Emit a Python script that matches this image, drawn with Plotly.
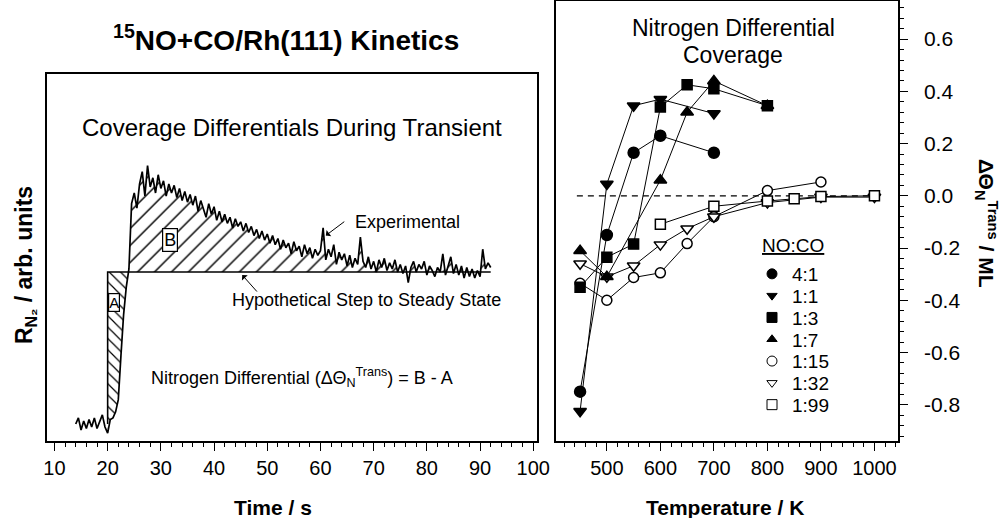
import plotly.graph_objects as go

FONT = "Liberation Sans, Arial, Helvetica, sans-serif"
W, H = 1003, 518

# ---------------- Left panel data: N2 rate transient (arb. units; baseline=0, steady=1)
time_s = [14.0, 14.5, 15.0, 15.5, 16.0, 16.5, 17.0, 17.5, 18.0, 18.5, 19.0, 19.5,
          20.0, 20.5, 21.0, 21.5, 22.0, 22.5, 23.0, 23.5, 24.0, 24.5, 25.0, 25.5,
          26.0, 26.5, 27.0, 27.5, 28.0, 28.5, 29.0, 29.5, 30.0, 30.5, 31.0, 31.5,
          32.0, 32.5, 33.0, 33.5, 34.0, 34.5, 35.0, 35.5, 36.0, 36.5, 37.0, 37.5,
          38.0, 38.5, 39.0, 39.5, 40.0, 40.5, 41.0, 41.5, 42.0, 42.5, 43.0, 43.5,
          44.0, 44.5, 45.0, 45.5, 46.0, 46.5, 47.0, 47.5, 48.0, 48.5, 49.0, 49.5,
          50.0, 50.5, 51.0, 51.5, 52.0, 52.5, 53.0, 53.5, 54.0, 54.5, 55.0, 55.5,
          56.0, 56.5, 57.0, 57.5, 58.0, 58.5, 59.0, 59.5, 60.0, 60.5, 61.0, 61.5,
          62.0, 62.5, 63.0, 63.5, 64.0, 64.5, 65.0, 65.5, 66.0, 66.5, 67.0, 67.5,
          68.0, 68.5, 69.0, 69.5, 70.0, 70.5, 71.0, 71.5, 72.0, 72.5, 73.0, 73.5,
          74.0, 74.5, 75.0, 75.5, 76.0, 76.5, 77.0, 77.5, 78.0, 78.5, 79.0, 79.5,
          80.0, 80.5, 81.0, 81.5, 82.0, 82.5, 83.0, 83.5, 84.0, 84.5, 85.0, 85.5,
          86.0, 86.5, 87.0, 87.5, 88.0, 88.5, 89.0, 89.5, 90.0, 90.5, 91.0, 91.5,
          92.0]
rate_n2 = [0.00, 0.04, -0.04, 0.02, -0.03, 0.03, -0.02, 0.04, -0.03, 0.02, 0.06, -0.02,
           -0.06, 0.03, 0.04, 0.08, 0.16, 0.45, 0.72, 0.90, 1.02, 1.45, 1.52, 1.42,
           1.58, 1.66, 1.50, 1.70, 1.56, 1.62, 1.52, 1.64, 1.55, 1.60, 1.50, 1.58,
           1.52, 1.57, 1.49, 1.55, 1.47, 1.53, 1.46, 1.51, 1.44, 1.50, 1.40, 1.47,
           1.42, 1.36, 1.45, 1.38, 1.43, 1.34, 1.40, 1.33, 1.38, 1.32, 1.36, 1.29,
           1.35, 1.30, 1.33, 1.27, 1.32, 1.26, 1.30, 1.24, 1.28, 1.22, 1.27, 1.21,
           1.25, 1.19, 1.24, 1.18, 1.22, 1.15, 1.21, 1.16, 1.19, 1.12, 1.20, 1.14,
           1.17, 1.10, 1.18, 1.12, 1.16, 1.09, 1.15, 1.11, 1.14, 1.29, 1.08, 1.15,
           1.10, 1.18, 1.05, 1.13, 1.08, 1.12, 1.04, 1.11, 1.03, 1.09, 1.05, 1.23,
           1.07, 1.03, 1.10, 1.02, 1.07, 1.00, 1.08, 1.03, 1.09, 1.01, 1.06, 1.02,
           1.08, 1.00, 1.05, 0.99, 1.04, 0.93, 1.03, 1.07, 1.00, 1.05, 1.02, 1.07,
           0.98, 1.04, 1.01, 0.97, 1.03, 1.00, 1.12, 0.98, 1.04, 1.10, 0.99, 1.05,
           0.98, 1.04, 0.96, 1.03, 0.97, 1.02, 0.96, 1.01, 0.97, 1.15, 1.02, 1.06,
           1.03]
STEP_TIME = 20.0
END_TIME = 92.0
BASELINE = 0.0
STEADY = 1.0
CROSS_TIME = 24.0

# ---------------- Right panel data: nitrogen differential coverage (ML) vs T (K)
series_names = ["4:1", "1:1", "1:3", "1:7", "1:15", "1:32", "1:99"]
temp_41 = [450, 500, 550, 600, 700]
cov_41 = [-0.75, -0.15, 0.165, 0.23, 0.165]
temp_11 = [450, 500, 550, 600, 700]
cov_11 = [-0.825, 0.045, 0.345, 0.37, 0.315]
temp_13 = [450, 500, 550, 600, 650, 700, 800]
cov_13 = [-0.35, -0.235, -0.185, 0.34, 0.425, 0.41, 0.345]
temp_17 = [450, 500, 600, 650, 700, 800]
cov_17 = [-0.21, -0.31, 0.06, 0.32, 0.44, 0.345]
temp_115 = [450, 500, 550, 600, 650, 700, 800, 900]
cov_115 = [-0.335, -0.40, -0.313, -0.295, -0.183, -0.08, 0.02, 0.053]
temp_132 = [450, 500, 550, 600, 650, 700, 800, 900, 1000]
cov_132 = [-0.26, -0.31, -0.268, -0.187, -0.126, -0.08, -0.026, -0.005, -0.005]
temp_199 = [600, 700, 800, 850, 900, 1000]
cov_199 = [-0.109, -0.04, -0.02, -0.011, -0.003, 0.0]
zero_line_t = [444, 1000]

x_ticks_left = [10, 20, 30, 40, 50, 60, 70, 80, 90, 100]
x_ticks_right = [500, 600, 700, 800, 900, 1000]
y_ticks_right = [-0.8, -0.6, -0.4, -0.2, 0.0, 0.2, 0.4, 0.6]

fig = go.Figure()

# ---- hatched area A (between step and rising edge)
a_t = [t for t in time_s if STEP_TIME <= t <= CROSS_TIME]
a_v = [min(v, STEADY) for t, v in zip(time_s, rate_n2) if STEP_TIME <= t <= CROSS_TIME]
fig.add_trace(go.Scatter(
    x=a_t + [STEP_TIME], y=a_v + [STEADY], mode="lines", fill="toself",
    line=dict(width=0, color="rgba(0,0,0,0)"), fillcolor="rgba(0,0,0,0)",
    fillpattern=dict(shape="\\", size=8, solidity=0.15, fgcolor="black",
                     bgcolor="rgba(0,0,0,0)"),
    showlegend=False, hoverinfo="skip", xaxis="x", yaxis="y"))

# ---- hatched area B (between transient and steady state)
b_t = [t for t in time_s if t >= CROSS_TIME - 0.5]
b_v = [max(v, STEADY) for t, v in zip(time_s, rate_n2) if t >= CROSS_TIME - 0.5]
fig.add_trace(go.Scatter(
    x=b_t + [END_TIME, b_t[0]], y=b_v + [STEADY, STEADY], mode="lines", fill="toself",
    line=dict(width=0, color="rgba(0,0,0,0)"), fillcolor="rgba(0,0,0,0)",
    fillpattern=dict(shape="/", size=12, solidity=0.12, fgcolor="black",
                     bgcolor="rgba(0,0,0,0)"),
    showlegend=False, hoverinfo="skip", xaxis="x", yaxis="y"))

# ---- hypothetical step
fig.add_trace(go.Scatter(
    x=[STEP_TIME, STEP_TIME, END_TIME], y=[BASELINE, STEADY, STEADY], mode="lines",
    line=dict(color="black", width=1.6), showlegend=False, hoverinfo="skip",
    xaxis="x", yaxis="y"))

# ---- experimental trace
fig.add_trace(go.Scatter(
    x=time_s, y=rate_n2, mode="lines", line=dict(color="black", width=1.7),
    showlegend=False, hoverinfo="skip", xaxis="x", yaxis="y"))

# ---- right panel
fig.add_trace(go.Scatter(
    x=zero_line_t, y=[0, 0], mode="lines",
    line=dict(color="black", width=1.3, dash="6px,5px"),
    showlegend=False, hoverinfo="skip", xaxis="x2", yaxis="y2"))

styles = {
    "4:1": dict(symbol="circle", color="black", size=11),
    "1:1": dict(symbol="triangle-down", color="black", size=11),
    "1:3": dict(symbol="square", color="black", size=10),
    "1:7": dict(symbol="triangle-up", color="black", size=11),
    "1:15": dict(symbol="circle", color="white", size=10),
    "1:32": dict(symbol="triangle-down", color="white", size=11),
    "1:99": dict(symbol="square", color="white", size=10),
}
data = {
    "4:1": (temp_41, cov_41), "1:1": (temp_11, cov_11), "1:3": (temp_13, cov_13),
    "1:7": (temp_17, cov_17), "1:15": (temp_115, cov_115),
    "1:32": (temp_132, cov_132), "1:99": (temp_199, cov_199),
}
draw_order = ["1:15", "1:32", "1:99", "4:1", "1:1", "1:7", "1:3"]
for name in draw_order:
    tx, cy = data[name]
    st = styles[name]
    fig.add_trace(go.Scatter(
        x=tx, y=cy, mode="lines+markers", name=name, showlegend=False,
        line=dict(color="black", width=1),
        marker=dict(symbol=st["symbol"], size=st["size"], color=st["color"],
                    line=dict(color="black", width=1.5)),
        xaxis="x2", yaxis="y2"))


def px(x):
    return x / W


def py(y):
    return 1 - y / H


# legend: one single-entry legend per series so rows can be packed tightly
LEG_X = 752
LEG_Y0 = 274
LEG_DY = 21.8
legends = {}
for i, name in enumerate(series_names):
    key = "legend" if i == 0 else f"legend{i + 1}"
    st = styles[name]
    fig.add_trace(go.Scatter(
        x=[None], y=[None], mode="markers", name=name, showlegend=True, legend=key,
        marker=dict(symbol=st["symbol"], size=9 if "tri" in st["symbol"] else 10,
                    color=st["color"], line=dict(color="black", width=1)),
        xaxis="x2", yaxis="y2"))
    legends[key] = dict(x=px(LEG_X), y=py(LEG_Y0 + i * LEG_DY), xanchor="left",
                        yanchor="middle", bgcolor="rgba(0,0,0,0)", borderwidth=0,
                        font=dict(family=FONT, size=19, color="black"))

ybot = py(441)
axis_common = dict(showgrid=False, zeroline=False, showline=True, linecolor="black",
                   linewidth=1.5, mirror=True, automargin=False,
                   tickfont=dict(family=FONT, size=20, color="black"))

fig.update_layout(
    template="none",
    width=W, height=H, margin=dict(l=0, r=0, t=0, b=0, pad=0), autosize=False,
    paper_bgcolor="white", plot_bgcolor="white",
    font=dict(family=FONT, color="black"),
    xaxis=dict(domain=[px(47), px(537)], range=[8.6, 100.7], anchor="y",
               tickvals=x_ticks_left, ticks="outside", ticklen=8, tickwidth=1.3,
               tickcolor="black",
               minor=dict(dtick=2, tick0=0, ticks="outside", ticklen=4, tickwidth=1.2,
                          tickcolor="black"),
               **axis_common),
    yaxis=dict(domain=[ybot, py(74)], range=[-0.112, 2.303], anchor="x",
               showticklabels=False, ticks="", **axis_common),
    xaxis2=dict(domain=[px(556), px(898)], range=[405, 1044], anchor="y2",
                tickvals=x_ticks_right, ticks="outside", ticklen=8, tickwidth=1.3,
                tickcolor="black",
                minor=dict(dtick=20, tick0=0, ticks="outside", ticklen=4, tickwidth=1.2,
                           tickcolor="black"),
                **axis_common),
    yaxis2=dict(domain=[ybot, py(1)], range=[-0.939, 0.746], anchor="x2", side="right",
                tickvals=y_ticks_right,
                ticktext=[f"{v:.1f}" for v in y_ticks_right],
                ticks="outside", ticklen=8,
                tickwidth=1.3, tickcolor="black", ticklabelstandoff=12,
                minor=dict(dtick=0.04, tick0=0, ticks="outside", ticklen=4,
                           tickwidth=1.2, tickcolor="black"),
                **axis_common),
    showlegend=True,
    **legends,
)
fig.update_yaxes(tickfont=dict(size=21), selector=dict(anchor="x2"))

ann = []
# titles and labels (paper coords)
ann.append(dict(text="<b><sup>15</sup>NO+CO/Rh(111) Kinetics</b>", x=px(286), y=py(38),
                font=dict(size=28)))
ann.append(dict(text="Coverage Differentials During Transient", x=px(292), y=py(127),
                font=dict(size=24)))
ann.append(dict(text="Experimental", x=px(407), y=py(222), font=dict(size=18)))
ann.append(dict(text="Hypothetical Step to Steady State", x=px(366), y=py(300),
                font=dict(size=18)))
ann.append(dict(text="Nitrogen Differential (ΔΘ<sub>N</sub><sup>Trans</sup>) = B - A",
                x=px(302), y=py(377), font=dict(size=18)))
ann.append(dict(text="<b>Time / s</b>", x=px(273), y=py(507), font=dict(size=21)))
ann.append(dict(text="<b>Temperature / K</b>", x=px(725), y=py(507), font=dict(size=21)))
ann.append(dict(text="<b>R<sub>N₂</sub> / arb. units</b>", x=px(25), y=py(265),
                textangle=-90, font=dict(size=23)))
ann.append(dict(text="<b>ΔΘ<sub>N</sub><sup>Trans</sup> / ML</b>", x=px(986), y=py(223),
                textangle=90, font=dict(size=21)))
ann.append(dict(text="Nitrogen Differential", x=px(733), y=py(28), font=dict(size=23)))
ann.append(dict(text="Coverage", x=px(733), y=py(55), font=dict(size=23)))
ann.append(dict(text="<u>NO:CO</u>", x=px(793), y=py(246), font=dict(size=19)))
for a in ann:
    a.update(xref="paper", yref="paper", showarrow=False, xanchor="center",
             yanchor="middle")
    a["font"].update(family=FONT, color="black")

# boxed A and B (data coords of left panel)
ann.append(dict(text="A", x=21.2, y=0.80, xref="x", yref="y", showarrow=False,
                font=dict(family=FONT, size=15, color="black"), bgcolor="white",
                bordercolor="black", borderwidth=1.2, borderpad=0))
ann.append(dict(text="B", x=31.8, y=1.21, xref="x", yref="y", showarrow=False,
                font=dict(family=FONT, size=18, color="black"), bgcolor="white",
                bordercolor="black", borderwidth=1.2, borderpad=1))
# arrows
ann.append(dict(text="", x=61.0, y=1.24, xref="x", yref="y", ax=20, ay=-15,
                showarrow=True, arrowhead=1, arrowsize=1.3, arrowwidth=1,
                arrowcolor="black"))
ann.append(dict(text="", x=45.3, y=0.98, xref="x", yref="y", ax=16, ay=18,
                showarrow=True, arrowhead=1, arrowsize=1.3, arrowwidth=1,
                arrowcolor="black"))
fig.update_layout(annotations=ann)

fig.write_html("out.html")
